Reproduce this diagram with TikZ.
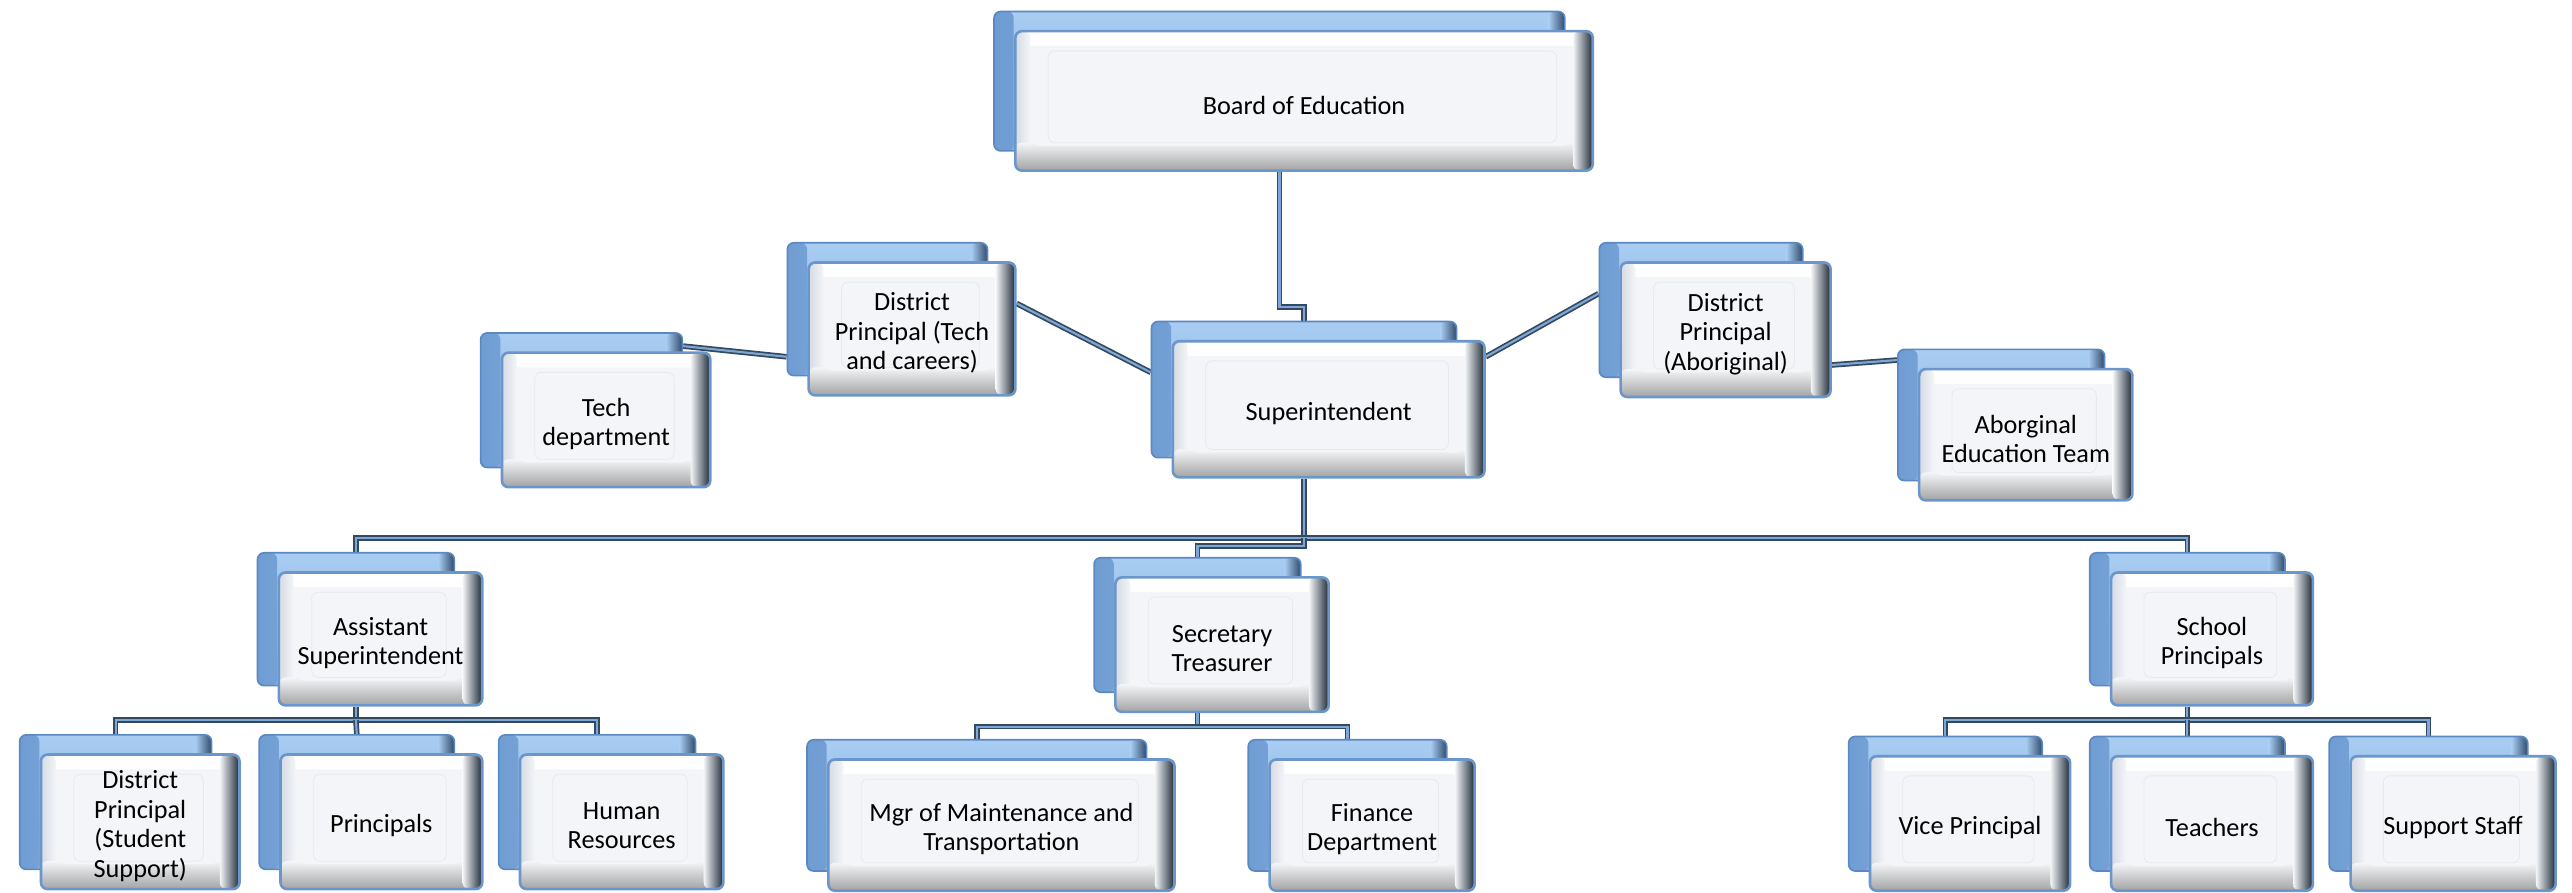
\documentclass[tikz,border=0pt]{standalone}
\usepackage{fontspec}
\setmainfont{Carlito}
\usetikzlibrary{calc}
\pgfdeclarelayer{background}
\pgfsetlayers{background,main}
\definecolor{bbtop}{HTML}{A9CDF2}
\definecolor{bbbot}{HTML}{82ADDE}
\definecolor{bbleft}{HTML}{6F9CD2}
\definecolor{bbline}{HTML}{5A88C0}
\definecolor{bbdark}{HTML}{2E4A6B}
\definecolor{fline}{HTML}{6B96CB}
\definecolor{fface}{HTML}{F3F5F8}
\definecolor{fbot}{HTML}{A3A3A3}
\definecolor{fright}{HTML}{1F2B38}
\definecolor{ftop}{HTML}{FFFFFF}
\definecolor{fleft}{HTML}{D5DBE3}
\definecolor{fin}{HTML}{E6E9EE}
\definecolor{conndark}{HTML}{34495E}
\definecolor{connlight}{HTML}{7EA6D6}
\tikzset{
  backbox/.style={rectangle, rounded corners=4pt, draw=bbline, line width=1pt,
    top color=bbtop, bottom color=bbbot, inner sep=0pt,
    path picture={
      \shade[left color=bbleft, right color=bbtop] (path picture bounding box.north west) rectangle ([xshift=12pt]path picture bounding box.south west);
      \shade[left color=bbtop, right color=bbdark] ([xshift=-10pt]path picture bounding box.north east) rectangle (path picture bounding box.south east);
    }},
  frontbox/.style={rectangle, rounded corners=4pt, draw=fline, line width=1.6pt,
    fill=fface, inner sep=0pt,
    path picture={
      \shade[top color=ftop, bottom color=fface] (path picture bounding box.north west) rectangle ([yshift=-9pt]path picture bounding box.north east);
      \shade[left color=fleft, right color=fface] (path picture bounding box.north west) rectangle ([xshift=9pt]path picture bounding box.south west);
      \shade[top color=fface, bottom color=fbot] ([yshift=17pt]path picture bounding box.south west) rectangle (path picture bounding box.south east);
      \shade[left color=fface, right color=fright] ([xshift=-12pt]path picture bounding box.north east) rectangle (path picture bounding box.south east);
      \fill[fface] ([xshift=11pt,yshift=15pt]path picture bounding box.south west) rectangle ([xshift=-14pt,yshift=-10pt]path picture bounding box.north east);
      \draw[fin, line width=0.5pt] ([xshift=20pt,yshift=17pt]path picture bounding box.south west) rectangle ([xshift=-22pt,yshift=-12pt]path picture bounding box.north east);
    }},
  boxtext/.style={align=center, text=black, inner sep=0pt,
    font=\fontsize{16}{18}\selectfont},
  conn/.style={draw=connlight, line width=1.3pt, preaction={draw=conndark, line width=3.4pt}}
}
\newcommand\mkorgbox[6]{%
  \node[backbox, minimum width=#4-4, minimum height=#5] (#1-back) at (#2-15,#3-12) {};
  \node[frontbox, minimum width=#4, minimum height=#5] (#1) at (#2,#3) {};
  \node[boxtext] (#1-text) at ([yshift=-2.5pt]#1.center) {#6};
}
\begin{document}
\begin{tikzpicture}[x=1pt,y=-1pt]
\useasboundingbox (0,0) rectangle (1568,544.4);
% top
\mkorgbox{board}{795}{61.5}{352}{85}{Board of Education}
\mkorgbox{supt}{810}{249.5}{190}{83}{Superintendent}
\mkorgbox{dptech}{556}{200.5}{126}{81}{District\\Principal (Tech\\and careers)}
\mkorgbox{techdept}{369.5}{256}{127}{82}{Tech\\department}
\mkorgbox{dpab}{1052}{201}{128}{82}{District\\Principal\\(Aboriginal)}
\mkorgbox{abteam}{1235}{265}{130}{80}{Aborginal\\Education Team}
% second level
\mkorgbox{asst}{232}{389.5}{124}{81}{Assistant\\Superintendent}
\mkorgbox{sec}{745}{393}{130}{82}{Secretary\\Treasurer}
\mkorgbox{school}{1348.5}{389.5}{123}{81}{School\\Principals}
% third level
\mkorgbox{dpss}{85.5}{501}{121}{82}{District\\Principal\\(Student\\Support)}
\mkorgbox{principals}{232.5}{501}{123}{82}{Principals}
\mkorgbox{hr}{379}{501}{124}{82}{Human\\Resources}
\mkorgbox{mgr}{610.5}{503}{211}{80}{Mgr of Maintenance and\\Transportation}
\mkorgbox{finance}{836.5}{503}{125}{80}{Finance\\Department}
\mkorgbox{vp}{1201}{502}{122}{82}{Vice Principal}
\mkorgbox{teachers}{1348.5}{502}{123}{82}{Teachers}
\mkorgbox{support}{1495.5}{502}{125}{82}{Support Staff}
% connectors
\coordinate (jog) at (780,187);
\coordinate (bus) at (795,328);
\coordinate (asstbus) at (217,439);
\coordinate (secbus) at (730,443);
\coordinate (schoolbus) at (1333.5,439);
\begin{pgfonlayer}{background}
\draw[conn] (board-back.center |- board.south) -- (jog) -| (supt-back.north);
\draw[conn] (supt-back.center |- supt.south) -- (bus);
\draw[conn] (asst-back.north) |- (bus) -| (school-back.north);
\draw[conn] (bus) -- ++(0,5) -| (sec-back.north);
\draw[conn] (asst-back.center |- asst.south) -- (asstbus);
\draw[conn] (dpss-back.north) |- (asstbus) -| (hr-back.north);
\draw[conn] (asstbus) -- (principals-back.north);
\draw[conn] (sec-back.center |- sec.south) -- (secbus);
\draw[conn] (mgr-back.north) |- (secbus) -| (finance-back.north);
\draw[conn] (school-back.center |- school.south) -- (schoolbus);
\draw[conn] (vp-back.north) |- (schoolbus) -| (support-back.north);
\draw[conn] (schoolbus) -- (teachers-back.north);
\draw[conn] ([yshift=10.5pt]supt-back.west) -- ([yshift=15.5pt]dptech.east);
\draw[conn] ([yshift=33pt]techdept-back.east) -- ([yshift=-29pt]dptech-back.west);
\draw[conn] ([yshift=32pt]supt.east) -- ([yshift=10pt]dpab-back.west);
\draw[conn] ([yshift=-21.5pt]dpab.east) -- ([yshift=33.5pt]abteam-back.west);
\end{pgfonlayer}
\end{tikzpicture}
\end{document}
